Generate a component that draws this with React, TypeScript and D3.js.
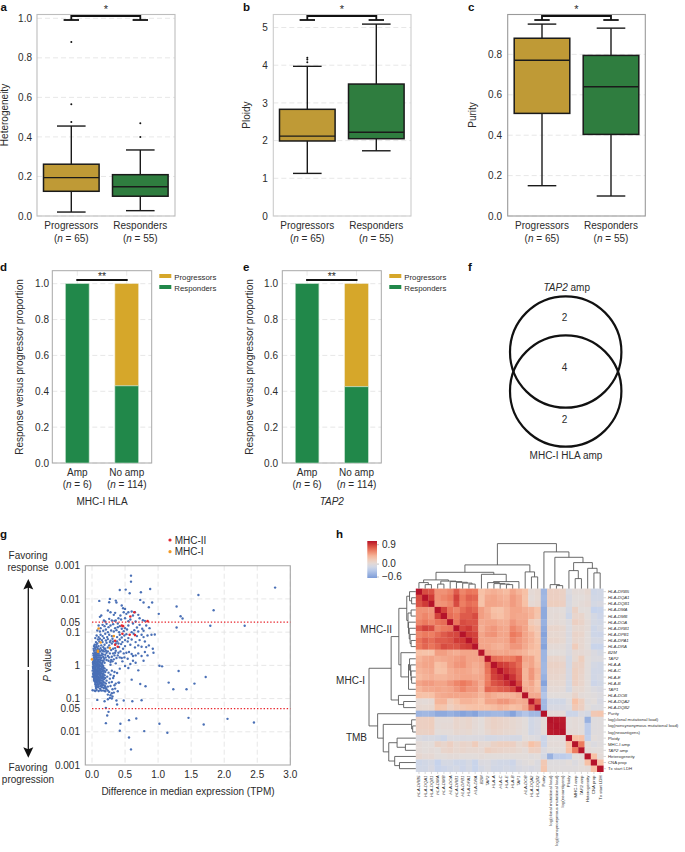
import React from "react";
import * as d3 from "d3";

const FONT = "'Liberation Sans', Arial, sans-serif";
const INK = "#2b2b2b";
const GOLD_BOX = "#bf9a36";
const GREEN_BOX = "#2f7d3f";
const GOLD_BAR = "#d6a72a";
const GREEN_BAR = "#21884a";

const boxGroups = ["Progressors", "Responders"];
const boxCounts = [65, 55];

// [low whisker, q1, median, q3, high whisker]
const heterogeneityStats = [[0.02, 0.125, 0.194, 0.262, 0.455], [0.027, 0.1, 0.148, 0.209, 0.334]];
const heterogeneityOutliers = [[0.475, 0.565, 0.88], [0.4, 0.469]];
const ploidyStats = [[1.13, 1.99, 2.12, 2.83, 3.97], [1.73, 2.05, 2.22, 3.5, 5.09]];
const ploidyOutliers = [[4.08, 4.15, 4.2], []];
const purityStats = [[0.15, 0.508, 0.771, 0.88, 0.95], [0.099, 0.404, 0.64, 0.795, 0.93]];
const purityOutliers: number[][] = [[], []];

const ampCategories = ["Amp", "No amp"];
const ampCounts = [6, 114];
const mhcResponders = [1.0, 0.43];
const tap2Responders = [1.0, 0.425];
const propTicks = [0, 0.2, 0.4, 0.6, 0.8, 1.0];

const vennCounts = [2, 4, 2];

const pTicks = [
  [3, "0.001"], [2, "0.01"], [1.301, "0.05"], [1, "0.1"], [0, "1"],
  [-1, "0.1"], [-1.301, "0.05"], [-2, "0.01"], [-3, "0.001"],
] as [number, string][];
const tpmTicks = [0, 0.5, 1, 1.5, 2, 2.5, 3];

// difference in median TPM, signed log10(1/P)
const mhc2Genes = [
  [0.64, 1.6], [0.58, 1.47], [0.47, 1.18], [0.45, 1.2], [0.46, 0.95], [0.65, 0.91], [0.57, 0.92],
  [0.35, 0.74], [0.35, 0.62], [0.39, 0.56], [0.84, 1.33],
];
const mhc1Genes = [[0.1, 1.11], [0.33, 0.88], [0.13, 0.69], [0.27, 0.52], [0.09, 0.44], [0.09, 0.41], [0.0, 0.18]];
const otherGenes = [
  [0.59,2.7],[0.59,2.52],[0.42,2.27],[0.51,2.28],[0.57,2.17],[0.74,2.2],[0.88,2.3],[2.77,2.34],[1.61,2.12],[0.11,1.94],
  [0.27,2.0],[0.26,1.9],[0.36,1.95],[0.37,1.89],[0.73,1.97],[0.78,1.89],[0.91,1.89],[0.86,1.75],[1.28,1.77],[1.84,1.66],
  [1.01,1.55],[1.34,1.48],[1.37,1.41],[0.45,1.8],[0.47,1.72],[0.5,1.7],[0.55,1.6],[0.48,1.6],[0.52,1.55],[0.6,1.62],
  [0.65,1.6],[0.62,1.5],[0.7,1.52],[0.72,1.42],[0.43,1.5],[0.4,1.42],[0.35,1.58],[0.33,1.52],[0.28,1.6],[0.24,1.65],
  [0.14,1.5],[0.12,1.46],[0.18,1.35],[0.2,1.32],[0.26,1.4],[0.3,1.35],[0.36,1.35],[0.44,1.38],[0.5,1.42],[0.55,1.33],
  [0.58,1.38],[0.66,1.32],[0.77,1.36],[0.8,1.34],[1.28,1.14],[1.79,1.19],[2.31,1.19],[0.1,1.2],[0.13,1.12],[0.16,1.22],
  [0.19,1.18],[0.22,1.25],[0.25,1.15],[0.28,1.2],[0.32,1.24],[0.35,1.12],[0.39,1.26],[0.42,1.18],[0.5,1.12],[0.55,1.2],
  [0.62,1.26],[0.68,1.14],[0.72,1.22],[0.76,1.1],[0.82,1.2],[0.87,1.12],[0.08,1.05],[0.12,1.02],[0.17,1.04],[0.21,1.08],
  [0.24,1.0],[0.29,1.05],[0.33,1.02],[0.37,1.06],[0.41,1.0],[0.48,1.03],[0.53,1.08],[0.6,1.0],[0.64,1.06],[0.7,1.02],
  [0.78,1.04],[0.95,0.93],[0.9,0.92],[0.84,0.9],[0.78,0.85],[0.75,0.92],[0.68,0.88],[0.63,0.95],[0.52,0.94],[0.42,0.92],
  [0.38,0.85],[0.3,0.88],[0.26,0.92],[0.23,0.85],[0.2,0.95],[0.16,0.88],[0.13,0.92],[0.1,0.85],[0.07,0.9],[0.05,0.82],
  [0.09,0.78],[0.12,0.8],[0.15,0.76],[0.18,0.82],[0.21,0.75],[0.24,0.79],[0.28,0.74],[0.31,0.8],[0.38,0.72],[0.42,0.78],
  [0.46,0.7],[0.5,0.76],[0.54,0.72],[0.6,0.78],[0.66,0.7],[0.72,0.76],[0.8,0.72],[0.82,0.55],[0.86,0.6],[0.92,0.5],
  [0.75,0.56],[0.7,0.6],[0.65,0.54],[0.58,0.62],[0.5,0.58],[0.44,0.64],[0.41,0.55],[0.3,0.66],[0.26,0.6],[0.22,0.68],
  [0.19,0.62],[0.16,0.7],[0.14,0.6],[0.11,0.72],[0.08,0.66],[0.06,0.7],[0.04,0.62],[0.03,0.58],[0.07,0.56],[0.1,0.58],
  [0.13,0.52],[0.17,0.55],[0.2,0.5],[0.24,0.54],[0.29,0.46],[0.32,0.5],[0.36,0.44],[0.4,0.38],[0.48,0.36],[0.52,0.38],
  [0.56,0.4],[0.6,0.34],[0.7,0.36],[0.8,0.4],[0.84,0.3],[0.93,0.38],[0.49,0.24],[0.45,0.22],[0.54,0.2],[0.62,0.14],
  [0.58,0.04],[0.66,0.3],[0.75,0.28],[0.78,0.14],[0.34,0.3],[0.37,0.22],[0.3,0.26],[0.27,0.36],[0.24,0.28],[0.22,0.38],
  [0.2,0.32],[0.18,0.42],[0.17,0.25],[0.15,0.36],[0.25,0.14],[0.31,0.12],[0.36,0.06],[0.28,0.02],[0.22,0.16],[0.19,0.08],
  [0.16,0.14],[0.14,0.22],[0.12,0.3],[0.11,0.42],[0.08,0.46],[0.05,0.5],[0.03,0.44],[0.02,0.36],[0.04,0.3],[0.06,0.38],
  [0.09,0.3],[0.07,0.22],[0.03,0.24],[0.05,0.16],[0.02,0.12],[0.08,0.12],[0.1,0.18],[0.12,0.08],[0.14,0.04],[0.04,0.06],
  [0.06,0.02],[0.09,0.04],[0.02,0.02],[0.03,-0.04],[0.05,-0.08],[0.07,-0.03],[0.1,-0.06],[0.12,-0.02],[0.15,-0.05],[0.17,-0.02],
  [0.02,-0.1],[0.04,-0.14],[0.06,-0.12],[0.08,-0.16],[0.11,-0.13],[0.13,-0.1],[0.16,-0.12],[0.19,-0.09],[0.22,-0.14],[0.03,-0.2],
  [0.05,-0.22],[0.07,-0.25],[0.09,-0.2],[0.12,-0.22],[0.14,-0.18],[0.17,-0.24],[0.2,-0.2],[0.25,-0.22],[0.3,-0.16],[0.34,-0.2],
  [0.38,-0.23],[0.02,-0.28],[0.04,-0.3],[0.06,-0.33],[0.08,-0.3],[0.1,-0.35],[0.13,-0.3],[0.16,-0.33],[0.19,-0.3],[0.23,-0.34],
  [0.28,-0.28],[0.33,-0.32],[0.03,-0.38],[0.05,-0.4],[0.07,-0.42],[0.09,-0.4],[0.12,-0.44],[0.15,-0.4],[0.18,-0.42],[0.22,-0.46],
  [0.27,-0.4],[0.32,-0.38],[0.04,-0.48],[0.06,-0.5],[0.08,-0.52],[0.11,-0.5],[0.14,-0.54],[0.17,-0.5],[0.21,-0.55],[0.26,-0.52],
  [0.3,-0.5],[0.05,-0.58],[0.07,-0.6],[0.1,-0.58],[0.13,-0.62],[0.16,-0.6],[0.2,-0.63],[0.4,-0.52],[0.06,-0.68],[0.09,-0.66],
  [0.12,-0.7],[0.24,-0.64],[0.01,-0.75],[0.04,-0.76],[0.07,-0.74],[0.1,-0.77],[0.13,-0.75],[0.18,-0.76],[0.22,-0.72],[0.26,-0.8],
  [0.3,-0.84],[0.28,-0.9],[0.33,-0.82],[0.24,-0.88],[0.31,-0.94],[0.27,-0.98],[0.3,-1.0],[0.35,-0.7],[0.39,-0.78],[0.08,-1.04],
  [0.19,-1.08],[0.24,-1.02],[0.37,-1.06],[0.48,-1.06],[0.61,-1.08],[0.75,-1.05],[0.38,-1.18],[0.21,-1.28],[0.25,-1.4],[0.23,-1.51],
  [0.6,-0.43],[0.7,-0.15],[0.41,-0.52],[0.73,-0.56],[0.81,-0.63],[1.02,-0.01],[1.06,-0.03],[1.31,-0.17],[1.72,-0.35],[1.16,-0.52],
  [1.55,-0.55],[1.23,-0.72],[1.43,-0.72],[1.46,-1.58],[2.05,-1.61],[2.45,-1.72],[1.69,-1.78],[1.02,-1.76],[0.67,-1.6],[0.56,-1.65],
  [0.43,-1.76],[0.21,-1.74],[0.42,-1.97],[0.79,-1.98],[1.14,-2.03],[0.56,-2.17],[0.59,-2.53],[0.5,-0.02],[0.55,-0.08],[0.42,-0.1],
  [0.46,0.12],[0.42,0.24],[0.66,0.08],[0.62,0.28],
  [0.02,0.05],[0.03,0.1],[0.05,0.04],[0.07,0.08],[0.09,0.1],[0.11,0.02],[0.01,-0.16],[0.02,-0.24],[0.01,-0.34],[0.03,-0.33],
  [0.06,-0.17],[0.08,-0.07],[0.1,-0.26],[0.06,-0.27],[0.04,-0.24],[0.07,-0.36],[0.05,-0.34],[0.09,-0.44],[0.03,-0.44],[0.05,-0.46],
  [0.02,0.18],[0.04,0.2],[0.06,0.26],[0.08,0.24],[0.1,0.24],[0.03,0.3],[0.05,0.34],[0.07,0.31],[0.12,0.18],[0.1,0.36],
  [0.015,0.08],[0.035,0.15],[0.055,0.1],[0.075,0.17],[0.095,0.14],[0.115,0.12],[0.135,0.15],[0.155,0.08],[0.175,0.14],[0.045,0.24],
  [0.065,0.3],[0.085,0.36],[0.105,0.3],[0.125,0.24],[0.145,0.3],[0.165,0.33],[0.185,0.2],[0.205,0.24],[0.025,0.3],[0.045,0.38],
  [0.065,0.44],[0.085,0.52],[0.105,0.48],[0.125,0.42],[0.145,0.46],[0.165,0.44],[0.185,0.5],[0.025,0.5],[0.045,0.55],[0.065,0.62],
  [0.015,-0.04],[0.035,-0.02],[0.055,-0.03],[0.075,0.01],[0.095,-0.02],[0.115,-0.09],[0.135,-0.03],[0.155,0.01],[0.175,-0.08],[0.015,-0.08],
  [0.035,-0.09],[0.055,-0.17],[0.075,-0.12],[0.095,-0.1],[0.105,-0.17],[0.125,-0.15],[0.145,-0.11],[0.165,-0.17],[0.185,-0.16],[0.025,-0.15],
  [0.045,-0.19],[0.065,-0.22],[0.085,-0.24],[0.105,-0.22],[0.125,-0.27],[0.145,-0.24],[0.165,-0.28],[0.025,-0.25],[0.045,-0.28],[0.07,-0.29],
  [0.09,-0.34],[0.115,-0.31],[0.135,-0.35],[0.155,-0.37],[0.175,-0.36],[0.035,-0.34],[0.055,-0.38],[0.08,-0.38],[0.1,-0.42],[0.12,-0.38],
  [0.14,-0.46],[0.16,-0.46],[0.2,-0.38],[0.04,-0.43],[0.07,-0.47],[0.09,-0.48],[0.115,-0.46],[0.13,-0.52],[0.16,-0.55],[0.19,-0.52],
  [0.05,-0.53],[0.08,-0.56],[0.11,-0.55],[0.14,-0.59],[0.18,-0.6],[0.06,-0.63],[0.1,-0.63],[0.15,-0.66],[0.18,-0.68],[0.21,-0.68],
  [0.28,-0.62],[0.34,-0.6],[0.15,-0.76],[0.2,-0.78],[0.24,-0.76],[0.05,-0.77],[0.31,-0.72],[0.36,-0.55],[0.29,0.16],[0.33,0.18],
  [0.26,0.24],[0.32,0.36],[0.35,0.38],[0.28,0.1],[0.24,0.42],[0.21,0.44],[0.39,0.3],[0.43,0.42],[0.47,0.5],[0.35,0.52],
  [0.27,0.7],[0.32,0.72],[0.36,0.66],[0.4,0.66],[0.45,0.84],[0.49,0.9],[0.55,0.82],[0.34,1.34],[0.39,1.15],[0.45,1.1],
];
const regionLabels = [["MHC-II", 392, 633], ["MHC-I", 365, 684], ["TMB", 367, 741]] as [string, number, number][];

const heatLabels = [
  "HLA-DRB5","HLA-DQA1","HLA-DQB1","HLA-DMA","HLA-DMB","HLA-DOA","HLA-DRB1","HLA-DPB1","HLA-DPA1","HLA-DRA",
  "B2M","TAP2","HLA-A","HLA-C","HLA-E","HLA-B","TAP1","HLA-DOB","HLA-DQA2","HLA-DQB2","Purity",
  "log(clonal mutational load)","log(nonsynonymous mutational load)","log(neoantigens)","Ploidy","MHC-I amp","TAP2 amp",
  "Heterogeneity","CNA prop","Tx start LDH",
];
const plainLabels = new Set(["Purity","log(clonal mutational load)","log(nonsynonymous mutational load)","log(neoantigens)","Ploidy","MHC-I amp","Heterogeneity","CNA prop","Tx start LDH"]);

// upper triangle of the correlation matrix, each row starts on the diagonal
const corrUpper = [
  [1,.78,.75,.5,.5,.55,.72,.55,.62,.6,.3,.35,.38,.35,.32,.42,.35,.3,.03,.06,-.42,.14,.14,.12,-.05,.02,.02,.06,-.14,-.12],
  [1,.85,.5,.55,.6,.82,.6,.7,.68,.28,.4,.42,.38,.36,.46,.4,.28,.02,.05,-.4,.14,.14,.12,-.08,0,0,.03,-.12,-.12],
  [1,.48,.5,.55,.78,.58,.65,.62,.28,.42,.42,.4,.38,.46,.4,.3,.04,.07,-.42,.16,.16,.14,-.07,0,.02,.04,-.1,-.08],
  [1,.82,.62,.55,.65,.72,.68,.45,.38,.3,.28,.35,.42,.42,.38,.35,.28,-.5,.02,.02,0,-.1,.12,0,0,-.2,-.18],
  [1,.65,.6,.72,.72,.78,.45,.4,.32,.3,.35,.42,.4,.4,.36,.26,-.5,.02,.03,.01,-.14,.08,.08,0,-.1,-.15],
  [1,.62,.78,.75,.75,.4,.42,.42,.38,.38,.48,.42,.42,.2,.15,-.45,.02,.03,.01,-.04,.14,.1,.02,-.1,-.12],
  [1,.8,.85,.75,.38,.45,.48,.42,.4,.55,.48,.42,.28,.22,-.5,.08,.08,.06,-.05,.06,.06,.02,-.14,-.1],
  [1,.85,.82,.42,.48,.5,.42,.42,.6,.55,.42,.36,.25,-.55,.06,.06,.04,-.06,.1,.08,0,-.14,-.15],
  [1,.85,.42,.42,.42,.4,.42,.55,.48,.42,.36,.28,-.5,.08,.08,.05,-.05,.08,.06,0,-.1,-.1],
  [1,.42,.42,.38,.36,.4,.48,.48,.4,.34,.3,-.55,.03,.03,.02,-.06,.18,.06,0,-.18,-.18],
  [1,.45,.42,.4,.42,.4,.38,.35,.3,.3,-.42,0,0,0,-.06,.04,.04,.02,-.06,-.1],
  [1,.65,.62,.58,.6,.68,.42,.42,.3,-.42,.08,.08,.06,-.1,.05,.16,0,-.05,-.05],
  [1,.85,.82,.75,.65,.38,.42,.32,-.4,.12,.12,.1,-.1,.12,.12,0,-.1,-.12],
  [1,.88,.8,.7,.35,.48,.36,-.4,.1,.1,.08,-.08,.15,.1,0,-.12,-.12],
  [1,.88,.72,.35,.48,.34,-.45,.08,.08,.06,-.08,.15,.08,0,-.12,-.1],
  [1,.8,.36,.42,.3,-.55,.06,.06,.05,-.1,.14,.08,0,-.15,-.12],
  [1,.4,.38,.32,-.38,.03,.03,.02,-.1,.05,.05,0,-.05,-.08],
  [1,.4,.4,-.3,0,0,0,0,.1,.02,0,-.02,-.05],
  [1,.7,-.4,-.12,-.12,-.12,-.03,.3,.15,-.02,0,-.08],
  [1,-.4,-.08,-.08,-.08,-.05,.22,.14,0,-.05,-.05],
  [1,.02,.02,.02,-.16,-.16,-.06,-.1,.22,.25],
  [1,.98,.97,0,.02,0,-.45,-.03,-.02],
  [1,.98,0,.02,0,-.25,-.03,-.02],
  [1,.02,.02,0,-.25,-.03,-.02],
  [1,.3,.3,-.22,0,-.02],
  [1,.6,0,-.05,-.02],
  [1,.02,0,0],
  [1,.3,.02],
  [1,.3],
  [1],
];

// cluster tree: [merge height, left child, right child], leaves are matrix indices
const clusterTree: any = [45,
  [23.7,
    [16.3,
      [8.7, [6, 0, [4, 1, 2]], [7.5, [4.5, 3, 4], [7, 5, [6.3, 6, [5.5, 7, [4.5, 8, 9]]]]]],
      [14.3, 10, [7, [6, 11, [5, 12, [4.5, 13, [4, 14, 15]]]], 16]]],
    [16.7, 17, [11.7, 18, 19]]],
  [36.7, 20,
    [31.3,
      [4, 21, [3, 22, 23]],
      [26, [18, 24, [10, 25, 26]], [20.3, 27, [15.7, 28, 29]]]]],
];

const corrColor = d3.scaleLinear<string>()
  .domain([-0.6, -0.2, 0, 0.3, 0.6, 0.85, 1])
  .range(["#7d9cd8", "#c6d3ec", "#e2dcda", "#f7c1a6", "#ec7a5e", "#cf3a36", "#b5132a"]);

const T = (p: any) => <text fontFamily={FONT} fill={INK} fontSize={10} stroke="none" {...p} />;
const Letter = ({ x, y, c }: any) => <text x={x} y={y} fontFamily={FONT} fontWeight={700} fontSize={11.5} fill="#111">{c}</text>;
const NLabel = ({ x, y, n }: any) => (
  <T x={x} y={y} textAnchor="middle">(<tspan fontStyle="italic">n</tspan> = {n})</T>
);

function BoxPanel({ left, right, yAt, ticks, fmt, stats, outliers, centers, frame, label, labelX, tickX, letter, letterX }: any) {
  const y = d3.scaleLinear().domain([0, 1]).range([216, 216 - yAt]);
  const x = d3.scalePoint<string>().domain(boxGroups).range(centers);
  const top = 14.5, bracket = 16, cap = 20;
  const [c0, c1] = centers;
  return (
    <g>
      <Letter x={letterX} y={10.6} c={letter} />
      {ticks.map((t: number) => (
        <g key={t}>
          <line x1={left} x2={right} y1={y(t)} y2={y(t)} stroke="#e4e4e4" strokeDasharray="5 3" strokeWidth={0.9} />
          <T x={tickX} y={y(t) + 3.6} textAnchor="end">{fmt(t)}</T>
        </g>
      ))}
      <rect x={left} y={top} width={right - left} height={216 - top} fill="none" stroke={frame} strokeWidth={1.1} />
      {boxGroups.map((g, i) => {
        const [lo, q1, med, q3, hi] = stats[i];
        const cx = x(g)!;
        return (
          <g key={g} stroke="#1a1a1a">
            <line x1={cx} x2={cx} y1={y(lo)} y2={y(hi)} strokeWidth={1.4} />
            <line x1={cx - 14.3} x2={cx + 14.3} y1={y(lo)} y2={y(lo)} strokeWidth={1.4} />
            <line x1={cx - 14.3} x2={cx + 14.3} y1={y(hi)} y2={y(hi)} strokeWidth={1.4} />
            <rect x={cx - 27.8} width={55.6} y={y(q3)} height={y(q1) - y(q3)} fill={i === 0 ? GOLD_BOX : GREEN_BOX} strokeWidth={1.5} />
            <line x1={cx - 27.8} x2={cx + 27.8} y1={y(med)} y2={y(med)} strokeWidth={1.4} />
            {outliers[i].map((o: number) => <circle key={o} cx={cx} cy={y(o)} r={1} fill="#111" strokeWidth={0} />)}
            <T x={cx} y={229} textAnchor="middle">{g}</T>
            <NLabel x={cx} y={241.7} n={boxCounts[i]} />
          </g>
        );
      })}
      <g stroke="#111" strokeWidth={1.8} fill="none">
        <path d={`M${c0},${cap}V${bracket}H${c1}V${cap}`} />
        <line x1={c0 - 7.7} x2={c0 + 7.7} y1={cap} y2={cap} />
        <line x1={c1 - 7.7} x2={c1 + 7.7} y1={cap} y2={cap} />
      </g>
      <T x={(c0 + c1) / 2} y={13} textAnchor="middle" fontSize={11}>*</T>
      <T transform={`translate(${labelX},115) rotate(-90)`} textAnchor="middle">{label}</T>
    </g>
  );
}

function StackPanel({ left, right, bars, responders, letter, letterX, labelX, tickX, legendX, xlabel, xItalic }: any) {
  const y = d3.scaleLinear().domain([0, 1]).range([463, 283.7]);
  const bw = 23.6;
  return (
    <g>
      <Letter x={letterX} y={271} c={letter} />
      {propTicks.map((t) => (
        <g key={t}>
          <line x1={left} x2={right} y1={y(t)} y2={y(t)} stroke="#e4e4e4" strokeDasharray="5 3" strokeWidth={0.9} />
          <T x={tickX} y={y(t) + 3.6} textAnchor="end">{t.toFixed(1)}</T>
        </g>
      ))}
      {bars.map((c: number) => (
        <line key={c} x1={c} x2={c} y1={270.7} y2={463} stroke="#e8e8e8" strokeDasharray="5 3" strokeWidth={0.9} />
      ))}
      <rect x={left} y={270.7} width={right - left} height={463 - 270.7} fill="none" stroke="#a8a8a8" strokeWidth={1} />
      {ampCategories.map((c, i) => {
        const cx = bars[i];
        const r = responders[i];
        return (
          <g key={c}>
            {r < 1 && <rect x={cx - bw / 2} width={bw} y={y(1)} height={y(r) - y(1)} fill={GOLD_BAR} stroke="#efe3bf" strokeWidth={0.6} />}
            <rect x={cx - bw / 2} width={bw} y={y(r)} height={y(0) - y(r)} fill={GREEN_BAR} stroke="#bfdcc9" strokeWidth={0.6} />
            <T x={cx} y={476} textAnchor="middle">{c}</T>
            <NLabel x={cx} y={488.3} n={ampCounts[i]} />
          </g>
        );
      })}
      <line x1={bars[0] - 1} x2={bars[1] + 1} y1={280} y2={280} stroke="#111" strokeWidth={2.2} />
      <T x={(bars[0] + bars[1]) / 2} y={279.5} textAnchor="middle" fontSize={10.5}>**</T>
      <T x={(bars[0] + bars[1]) / 2} y={505} textAnchor="middle" fontStyle={xItalic ? "italic" : "normal"}>{xlabel}</T>
      <T transform={`translate(${labelX},367) rotate(-90)`} textAnchor="middle">Response versus progressor proportion</T>
      <rect x={legendX} y={274} width={12} height={4} fill={GOLD_BAR} />
      <rect x={legendX} y={285} width={12} height={4} fill={GREEN_BAR} />
      <T x={legendX + 15} y={279.5} fontSize={7.8}>Progressors</T>
      <T x={legendX + 15} y={290.5} fontSize={7.8}>Responders</T>
    </g>
  );
}

function Venn() {
  const y = d3.scaleLinear().domain([0, 2]).range([320.7, 422.7]);
  return (
    <g>
      <Letter x={468} y={271} c="f" />
      <circle cx={565.7} cy={352} r={55.7} fill="none" stroke="#111" strokeWidth={2.2} />
      <circle cx={565.7} cy={391} r={55.7} fill="none" stroke="#111" strokeWidth={2.2} />
      <T x={566.7} y={291} textAnchor="middle"><tspan fontStyle="italic">TAP2</tspan> amp</T>
      {vennCounts.map((c, i) => <T key={i} x={564.5} y={i === 1 ? 370.7 : y(i)} textAnchor="middle">{c}</T>)}
      <T x={566} y={459} textAnchor="middle">MHC-I HLA amp</T>
    </g>
  );
}

function Volcano() {
  const x = d3.scaleLinear().domain([0, 3]).range([92, 290.3]);
  const y = d3.scaleLinear().domain([-3, 3]).range([765, 565.7]);
  const left = 85.3, right = 290.3;
  return (
    <g>
      <Letter x={0} y={538} c="g" />
      {tpmTicks.map((t) => (
        <g key={t}>
          <line x1={x(t)} x2={x(t)} y1={565.7} y2={765} stroke="#e4e4e4" strokeDasharray="5 3" strokeWidth={0.9} />
          <T x={x(t)} y={777.7} textAnchor="middle">{t.toFixed(1)}</T>
        </g>
      ))}
      {pTicks.map(([v, s], i) => (
        <g key={i}>
          {Math.abs(v) !== 1.301 && Math.abs(v) !== 3 && <line x1={left} x2={right} y1={y(v)} y2={y(v)} stroke="#e4e4e4" strokeDasharray="5 3" strokeWidth={0.9} />}
          <T x={80} y={y(v) + 3.6} textAnchor="end">{s}</T>
        </g>
      ))}
      <path d={`M${left},565.7H${right}V765H${left}Z`} fill="none" stroke="#a6a6a6" strokeWidth={1.1} />
      {otherGenes.map((d, i) => <circle key={i} cx={x(d[0])} cy={y(d[1])} r={1.2} fill="#4a70b6" />)}
      {[1.301, -1.301].map((v) => (
        <line key={v} x1={92} x2={right} y1={y(v)} y2={y(v)} stroke="#e8232a" strokeWidth={1.3} strokeDasharray="1.4 1.9" />
      ))}
      {mhc1Genes.map((d, i) => <circle key={i} cx={x(d[0])} cy={y(d[1])} r={1.3} fill="#f39a25" />)}
      {mhc2Genes.map((d, i) => <circle key={i} cx={x(d[0])} cy={y(d[1])} r={1.3} fill="#e3262e" />)}
      <circle cx={170} cy={540} r={1.6} fill="#e3262e" />
      <circle cx={170} cy={551.7} r={1.6} fill="#f39a25" />
      <T x={174.7} y={543.7}>MHC-II</T>
      <T x={174.7} y={555.4}>MHC-I</T>
      <T x={28} y={559} textAnchor="middle">Favoring</T>
      <T x={28} y={571} textAnchor="middle">response</T>
      <T x={28} y={770.7} textAnchor="middle">Favoring</T>
      <T x={28} y={782.7} textAnchor="middle">progression</T>
      <line x1={28.3} x2={28.3} y1={585} y2={667} stroke="#111" strokeWidth={1.3} />
      <line x1={28.3} x2={28.3} y1={670} y2={752} stroke="#111" strokeWidth={1.3} />
      <path d="M28.3,579 L33.3,589.5 L28.3,587.5 L23.3,589.5 Z" fill="#111" />
      <path d="M28.3,757.7 L33.3,747.2 L28.3,749.2 L23.3,747.2 Z" fill="#111" />
      <T transform="translate(51,665) rotate(-90)" textAnchor="middle"><tspan fontStyle="italic">P</tspan> value</T>
      <T x={188} y={794.7} textAnchor="middle">Difference in median expression (TPM)</T>
    </g>
  );
}

function dendroSegments(tree: any, pos: (i: number) => number) {
  const segs: [number, number, number, number][] = [];
  const walk = (n: any): [number, number] => {
    if (typeof n === "number") return [pos(n), 0];
    const [h, a, b] = n;
    const [pa, ha] = walk(a);
    const [pb, hb] = walk(b);
    segs.push([pa, ha, pa, h], [pa, h, pb, h], [pb, h, pb, hb]);
    return [(pa + pb) / 2, h];
  };
  walk(tree);
  return segs;
}

function Heatmap() {
  const idx = heatLabels.map((_, i) => i);
  const x = d3.scaleBand<number>().domain(idx).range([415.8, 603.3]);
  const y = d3.scaleBand<number>().domain(idx).range([588.6, 771.7]);
  const val = (i: number, j: number) => (i <= j ? corrUpper[i][j - i] : corrUpper[j][i - j]);
  const topSegs = dendroSegments(clusterTree, (i) => x(i)! + x.bandwidth() / 2);
  const leftSegs = dendroSegments(clusterTree, (i) => y(i)! + y.bandwidth() / 2);
  const barY = d3.scaleLinear().domain([-0.6, 0.9]).range([577, 544.7]);
  const barStops = d3.range(0, 1.0001, 0.1);
  return (
    <g>
      <Letter x={336} y={538} c="h" />
      <defs>
        <linearGradient id="corrGrad" x1="0" y1="1" x2="0" y2="0">
          {barStops.map((s) => <stop key={s} offset={s} stopColor={corrColor(-0.6 + 1.6 * s)} />)}
        </linearGradient>
      </defs>
      <rect x={367.3} y={541} width={9.7} height={37} fill="url(#corrGrad)" />
      {[[0.9, "0.9"], [0, "0.0"], [-0.6, "\u22120.6"]].map(([v, s]) => (
        <g key={String(s)}>
          <line x1={377} x2={379} y1={barY(v as number)} y2={barY(v as number)} stroke="#888" strokeWidth={0.5} />
          <T x={382} y={barY(v as number) + 3.4} fontSize={10}>{s}</T>
        </g>
      ))}
      {idx.map((i) => idx.map((j) => (
        <rect key={`${i}-${j}`} x={x(j)} y={y(i)} width={x.bandwidth() + 0.3} height={y.bandwidth() + 0.3} fill={corrColor(val(i, j))} />
      )))}
      <g stroke="#5a5a5a" strokeWidth={0.9} fill="none">
        {topSegs.map((s, i) => <line key={i} x1={s[0]} x2={s[2]} y1={588.6 - s[1]} y2={588.6 - s[3]} />)}
        {leftSegs.map((s, i) => <line key={i} y1={s[0]} y2={s[2]} x1={415.8 - s[1] * 1.04} x2={415.8 - s[3] * 1.04} />)}
      </g>
      {idx.map((i) => {
        const l = heatLabels[i];
        const st = plainLabels.has(l) ? "normal" : "italic";
        const cy = y(i)! + y.bandwidth() / 2;
        const cx = x(i)! + x.bandwidth() / 2;
        const body = l === "TAP2 amp" ? <><tspan fontStyle="italic">TAP2</tspan> amp</> : l;
        return (
          <g key={l}>
            <line x1={603.5} x2={606} y1={cy} y2={cy} stroke="#999" strokeWidth={0.4} />
            <line x1={cx} x2={cx} y1={771.9} y2={774} stroke="#999" strokeWidth={0.4} />
            <text x={608} y={cy + 1.5} fontFamily={FONT} fontSize={4.3} fill="#333" fontStyle={l === "TAP2 amp" ? "normal" : st}>{body}</text>
            <text transform={`translate(${cx + 1.5},775.5) rotate(-90)`} textAnchor="end" fontFamily={FONT} fontSize={4.3} fill="#333" fontStyle={l === "TAP2 amp" ? "normal" : st}>{body}</text>
          </g>
        );
      })}
      {regionLabels.map(([s, rx, ry]) => <T key={s} x={rx} y={ry} textAnchor="end">{s}</T>)}
    </g>
  );
}

export default function App() {
  return (
    <svg width={685} height={852} viewBox="0 0 685 852" style={{ position: "absolute", left: 0, top: 0, display: "block", background: "#fff" }}>
      <BoxPanel left={37} right={175} yAt={197.7} ticks={[0, 0.2, 0.4, 0.6, 0.8, 1]} fmt={(t: number) => t.toFixed(1)}
        stats={heterogeneityStats} outliers={heterogeneityOutliers} centers={[71.3, 140.3]} frame="#bdbdbd"
        label="Heterogeneity" labelX={8} tickX={32} letter="a" letterX={0.5} />
      <BoxPanel left={273.3} right={411} yAt={37.7} ticks={[0, 1, 2, 3, 4, 5]} fmt={(t: number) => String(t)}
        stats={ploidyStats} outliers={ploidyOutliers} centers={[307.3, 376.3]} frame="#cccccc"
        label="Ploidy" labelX={250} tickX={267.7} letter="b" letterX={243} />
      <BoxPanel left={507.7} right={645.3} yAt={202} ticks={[0, 0.2, 0.4, 0.6, 0.8]} fmt={(t: number) => t.toFixed(1)}
        stats={purityStats} outliers={purityOutliers} centers={[542, 611]} frame="#9a9a9a"
        label="Purity" labelX={476} tickX={502} letter="c" letterX={468} />
      <StackPanel left={52.3} right={151.7} bars={[77.3, 126.7]} responders={mhcResponders} letter="d" letterX={0}
        labelX={23} tickX={49} legendX={159.3} xlabel="MHC-I HLA" />
      <StackPanel left={282.3} right={381.3} bars={[307.1, 356.5]} responders={tap2Responders} letter="e" letterX={243}
        labelX={253} tickX={278} legendX={389.3} xlabel="TAP2" xItalic />
      <Venn />
      <Volcano />
      <Heatmap />
    </svg>
  );
}
